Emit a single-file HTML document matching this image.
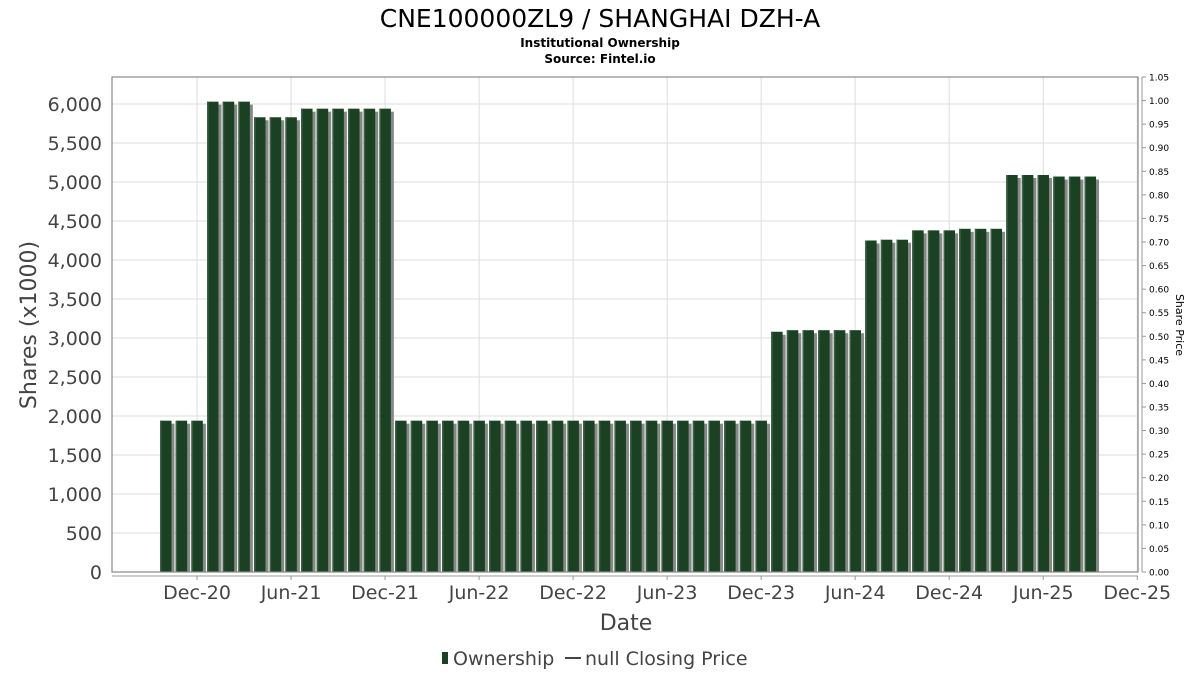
<!DOCTYPE html>
<html><head><meta charset="utf-8"><style>
body{margin:0;background:#fff;}
svg text{font-family:"DejaVu Sans","Liberation Sans",sans-serif;}
</style></head><body>
<svg id="chart" width="1200" height="675" xmlns="http://www.w3.org/2000/svg">
<rect width="1200" height="675" fill="#fff"/>
<text x="600" y="27" text-anchor="middle" font-size="25" fill="#000">CNE100000ZL9 / SHANGHAI DZH-A</text>
<text x="600" y="47" text-anchor="middle" font-size="12" font-weight="bold" fill="#000">Institutional Ownership</text>
<text x="600" y="63" text-anchor="middle" font-size="12" font-weight="bold" fill="#000">Source: Fintel.io</text>
<g id="grid"></g>
<g id="bars"></g>
<rect x="112" y="77" width="1026" height="495" fill="none" stroke="#888" stroke-width="1.2"/>
<line x1="112" y1="576" x2="1138" y2="576" stroke="#999"/>
<line x1="1142" y1="77" x2="1142" y2="572" stroke="#999"/>
<g id="yticks"></g>
<g id="rticks"></g>
<g id="xticks"></g>
<text x="36" y="325" transform="rotate(-90 36 325)" text-anchor="middle" font-size="22" fill="#444">Shares (x1000)</text>
<text x="1176" y="325" transform="rotate(90 1176 325)" text-anchor="middle" font-size="11" fill="#000">Share Price</text>
<text x="626" y="630" text-anchor="middle" font-size="22" fill="#444">Date</text>
<g>
<rect x="442" y="652" width="6" height="12" fill="#1a4222"/>
<text x="453" y="665" font-size="19" fill="#444">Ownership</text>
<line x1="565" y1="658" x2="581" y2="658" stroke="#444" stroke-width="2"/>
<text x="585" y="665" font-size="19" fill="#444">null Closing Price</text>
</g>
</svg>
<script>
const shares = [1940,1940,1940,6030,6030,6030,5830,5830,5830,5940,5940,5940,5940,5940,5940,
1940,1940,1940,1940,1940,1940,1940,1940,1940,1940,1940,1940,1940,1940,1940,1940,1940,1940,1940,1940,1940,1940,1940,1940,
3080,3100,3100,3100,3100,3100,4250,4260,4260,4380,4380,4380,4400,4400,4400,5090,5090,5090,5070,5070,5070];
const yTicks = [0,500,1000,1500,2000,2500,3000,3500,4000,4500,5000,5500,6000];
const rTicks = [0,0.05,0.1,0.15,0.2,0.25,0.3,0.35,0.4,0.45,0.5,0.55,0.6,0.65,0.7,0.75,0.8,0.85,0.9,0.95,1.0,1.05];
const xLabels = ["Dec-20","Jun-21","Dec-21","Jun-22","Dec-22","Jun-23","Dec-23","Jun-24","Dec-24","Jun-25","Dec-25"];
const xLabelMonth = [2,8,14,20,26,32,38,44,50,56,62]; // months since Oct-2020
const NS="http://www.w3.org/2000/svg";
const y = v => 572 - v*0.078;
const yr = v => 572 - v*(495/1.05);
const x = m => 160 + m*15.67;
function mk(tag,attrs,parent){const e=document.createElementNS(NS,tag);for(const k in attrs)e.setAttribute(k,attrs[k]);document.getElementById(parent).appendChild(e);return e;}
yTicks.forEach(v=>{
  const g=mk('line',{x1:112,x2:1138,y1:y(v),y2:y(v),stroke:'#ddd'},'grid');
  
  
  const t=mk('text',{x:102,y:y(v)+7,'text-anchor':'end','font-size':19,fill:'#444'},'yticks');
  t.textContent=v.toLocaleString('en-US');
  
  
});
rTicks.forEach(v=>{
  const l=mk('line',{x1:1142,x2:1146,y1:yr(v),y2:yr(v),stroke:'#999'},'rticks');
  
  
  const t=mk('text',{x:1149,y:yr(v)+3.5,'font-size':9,fill:'#000'},'rticks');
  t.textContent=v.toFixed(2);
  
  
});
xLabels.forEach((lab,i)=>{
  const px=x(xLabelMonth[i])+6-0.3;
  const g=mk('line',{x1:px,x2:px,y1:77,y2:572,stroke:'#ddd'},'grid');
  
  
  const tk=mk('line',{x1:px,x2:px,y1:576,y2:580,stroke:'#999'},'xticks');
  
  
  const t=mk('text',{x:px,y:599,'text-anchor':'middle','font-size':19,fill:'#444'},'xticks');
  t.textContent=lab;
  
  
});
shares.forEach((v,i)=>{
  const bx=x(i), by=y(v), h=572-by;
  const s=mk('rect',{x:bx+3,y:by+3,width:11.5,height:h-3,fill:'#888'},'bars');
  
  
  const b=mk('rect',{x:bx,y:by,width:11.5,height:h,fill:'#1a4222'},'bars');
  
  
  const e=mk('rect',{x:bx,y:by,width:1.5,height:h,fill:'#3d6044'},'bars');
  
  
});
</script>
</body></html>
